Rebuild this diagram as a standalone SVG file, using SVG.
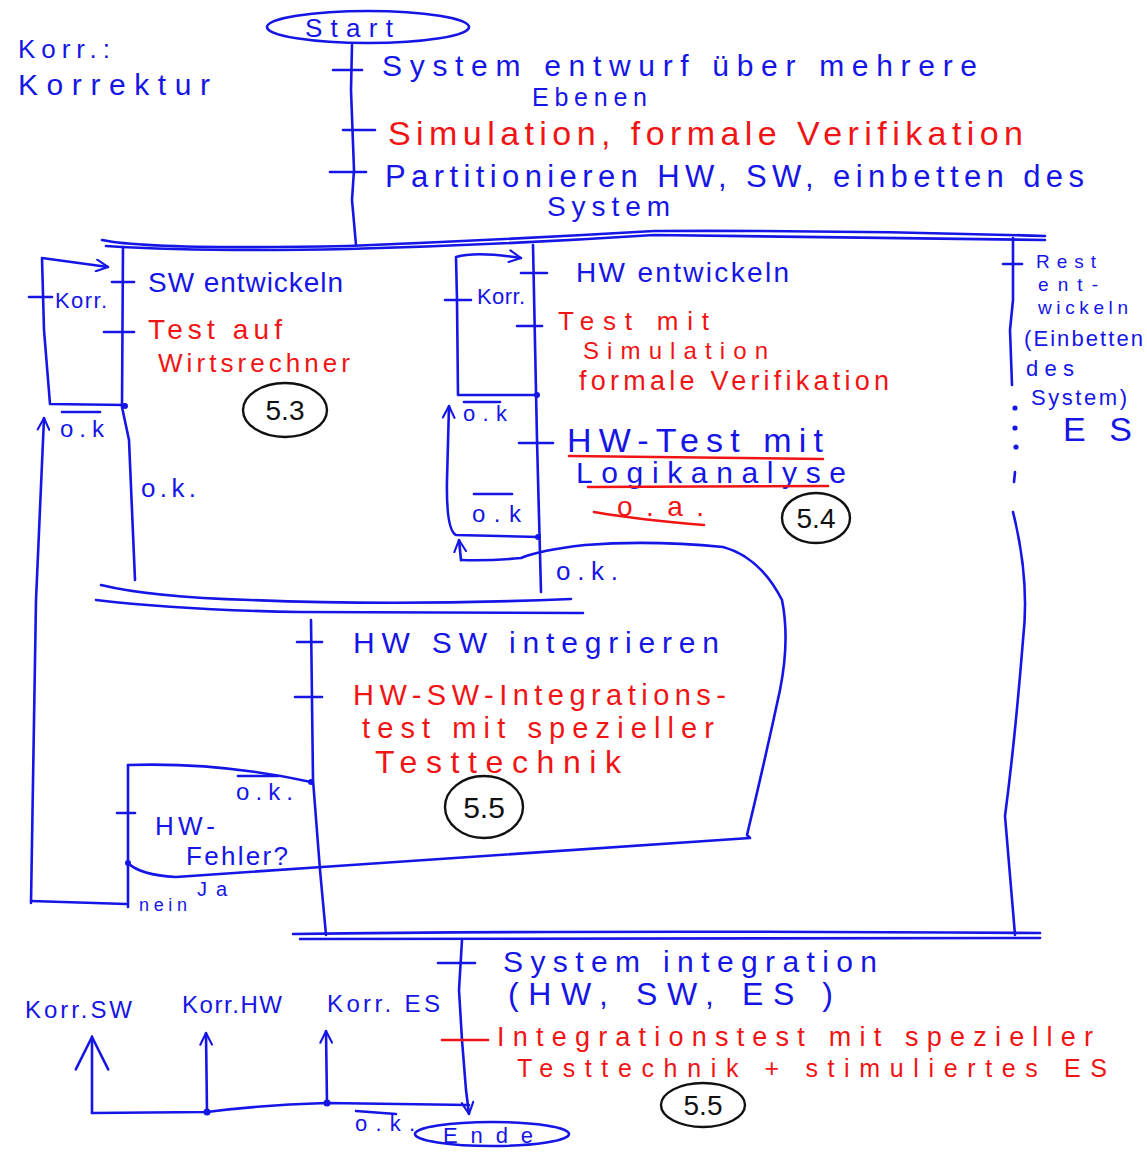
<svg xmlns="http://www.w3.org/2000/svg" width="1147" height="1152" viewBox="0 0 1147 1152">
<defs>
<style>
.b{fill:#1515e6;font-family:"Liberation Sans",Arial,sans-serif;}
.r{fill:#f01414;font-family:"Liberation Sans",Arial,sans-serif;}
.k{fill:#111;font-family:"Liberation Sans",Arial,sans-serif;}
.ln{fill:none;stroke:#1515e6;stroke-width:2.6;stroke-linecap:round;stroke-linejoin:round;}
.rl{fill:none;stroke:#f01414;stroke-width:2.6;stroke-linecap:round;}
.ci{fill:none;stroke:#111;stroke-width:2.4;}
.dot{fill:#1515e6;}
</style>
<marker id="arr" viewBox="0 0 12 12" refX="11" refY="6" markerWidth="14" markerHeight="14" markerUnits="userSpaceOnUse" orient="auto">
<path d="M1,1 L11,6 L1,11" fill="none" stroke="#1515e6" stroke-width="1.8" stroke-linecap="round"/>
</marker>
<marker id="arrW" viewBox="0 0 20 20" refX="19" refY="10" markerWidth="36" markerHeight="36" markerUnits="userSpaceOnUse" orient="auto">
<path d="M1,1 L19,10 L1,19" fill="none" stroke="#1515e6" stroke-width="1.4" stroke-linecap="round"/>
</marker>
</defs>
<rect width="1147" height="1152" fill="#ffffff"/>

<g id="legend">
<text class="b" x="18" y="58" font-size="26" textLength="92" lengthAdjust="spacing">Korr.:</text>
<text class="b" x="18" y="95" font-size="30" textLength="192" lengthAdjust="spacing">Korrektur</text>
</g>

<g id="start">
<ellipse cx="368" cy="27" rx="101" ry="16" fill="none" stroke="#1515e6" stroke-width="2.6"/>
<text class="b" x="305" y="37" font-size="26" textLength="88" lengthAdjust="spacing">Start</text>
</g>

<g id="step-entwurf">
<text class="b" x="382" y="76" font-size="30" textLength="595" lengthAdjust="spacing">System entwurf über mehrere</text>
<text class="b" x="532" y="106" font-size="25" textLength="115" lengthAdjust="spacing">Ebenen</text>
</g>
<g id="step-simulation">
<text class="r" x="388" y="145" font-size="34" textLength="635" lengthAdjust="spacing">Simulation, formale Verifikation</text>
</g>
<g id="step-partition">
<text class="b" x="385" y="187" font-size="31" textLength="699" lengthAdjust="spacing">Partitionieren HW, SW, einbetten des</text>
<text class="b" x="547" y="216" font-size="28" textLength="123" lengthAdjust="spacing">System</text>
</g>

<g id="sw-branch">
<text class="b" x="148" y="292" font-size="28" textLength="195" lengthAdjust="spacing">SW entwickeln</text>
<text class="r" x="148" y="339" font-size="28" textLength="134" lengthAdjust="spacing">Test auf</text>
<text class="r" x="158" y="372" font-size="26" textLength="192" lengthAdjust="spacing">Wirtsrechner</text>
<text class="b" x="55" y="308" font-size="22" textLength="52" lengthAdjust="spacing">Korr.</text>
<text class="b" x="60" y="437" font-size="24" textLength="44" lengthAdjust="spacing">o.k</text>
<line class="ln" x1="62" y1="412" x2="100" y2="412"/>
<text class="b" x="141" y="497" font-size="26" textLength="55" lengthAdjust="spacing">o.k.</text>
<ellipse class="ci" cx="285" cy="410" rx="42" ry="27"/>
<text class="k" x="285" y="420" font-size="28" text-anchor="middle">5.3</text>
</g>

<g id="hw-branch">
<text class="b" x="576" y="282" font-size="28" textLength="213" lengthAdjust="spacing">HW entwickeln</text>
<text class="r" x="558" y="330" font-size="26" textLength="151" lengthAdjust="spacing">Test mit</text>
<text class="r" x="583" y="359" font-size="24" textLength="185" lengthAdjust="spacing">Simulation</text>
<text class="r" x="579" y="390" font-size="27" textLength="310" lengthAdjust="spacing">formale Verifikation</text>
<text class="b" x="477" y="304" font-size="22" textLength="48" lengthAdjust="spacing">Korr.</text>
<text class="b" x="463" y="421" font-size="22" textLength="44" lengthAdjust="spacing">o.k</text>
<line class="ln" x1="464" y1="402" x2="500" y2="402"/>
<text class="b" x="567" y="452" font-size="34" textLength="256" lengthAdjust="spacing">HW-Test mit</text>
<line class="rl" x1="569" y1="456" x2="823" y2="459"/>
<text class="b" x="576" y="483" font-size="30" textLength="270" lengthAdjust="spacing">Logikanalyse</text>
<line class="rl" x1="588" y1="487" x2="828" y2="486"/>
<text class="r" x="617" y="516" font-size="28" textLength="87" lengthAdjust="spacing">o.a.</text>
<path class="rl" d="M594,512 Q640,520 704,525"/>
<text class="b" x="472" y="522" font-size="24" textLength="49" lengthAdjust="spacing">o.k</text>
<line class="ln" x1="474" y1="494" x2="512" y2="494"/>
<text class="b" x="556" y="580" font-size="26" textLength="62" lengthAdjust="spacing">o.k.</text>
<ellipse class="ci" cx="816" cy="518" rx="34" ry="25"/>
<text class="k" x="816" y="528" font-size="28" text-anchor="middle">5.4</text>
</g>

<g id="es-branch">
<text class="b" x="1036" y="268" font-size="19" textLength="60" lengthAdjust="spacing">Rest</text>
<text class="b" x="1038" y="291" font-size="19" textLength="60" lengthAdjust="spacing">ent-</text>
<text class="b" x="1038" y="314" font-size="19" textLength="90" lengthAdjust="spacing">wickeln</text>
<text class="b" x="1024" y="346" font-size="22" textLength="119" lengthAdjust="spacing">(Einbetten</text>
<text class="b" x="1026" y="376" font-size="22" textLength="48" lengthAdjust="spacing">des</text>
<text class="b" x="1031" y="405" font-size="22" textLength="96" lengthAdjust="spacing">System)</text>
<text class="b" x="1063" y="441" font-size="34" textLength="69" lengthAdjust="spacing">ES</text>
</g>

<g id="hwsw-integration">
<text class="b" x="353" y="653" font-size="30" textLength="366" lengthAdjust="spacing">HW SW integrieren</text>
<text class="r" x="353" y="705" font-size="29" textLength="373" lengthAdjust="spacing">HW-SW-Integrations-</text>
<text class="r" x="362" y="738" font-size="29" textLength="352" lengthAdjust="spacing">test mit spezieller</text>
<text class="r" x="375" y="773" font-size="32" textLength="246" lengthAdjust="spacing">Testtechnik</text>
<ellipse class="ci" cx="484" cy="807" rx="39" ry="31"/>
<text class="k" x="484" y="818" font-size="30" text-anchor="middle">5.5</text>
</g>

<g id="hw-fehler">
<text class="b" x="236" y="800" font-size="24" textLength="57" lengthAdjust="spacing">o.k.</text>
<line class="ln" x1="238" y1="776" x2="278" y2="776"/>
<text class="b" x="155" y="835" font-size="26" textLength="60" lengthAdjust="spacing">HW-</text>
<text class="b" x="186" y="865" font-size="26" textLength="102" lengthAdjust="spacing">Fehler?</text>
<text class="b" x="139" y="911" font-size="18" textLength="48" lengthAdjust="spacing">nein</text>
<text class="b" x="197" y="896" font-size="20" textLength="30" lengthAdjust="spacing">Ja</text>
</g>

<g id="system-integration">
<text class="b" x="503" y="972" font-size="30" textLength="374" lengthAdjust="spacing">System integration</text>
<text class="b" x="508" y="1005" font-size="32" textLength="325" lengthAdjust="spacing">(HW, SW, ES )</text>
<text class="r" x="497" y="1046" font-size="27" textLength="596" lengthAdjust="spacing">Integrationstest mit spezieller</text>
<text class="r" x="517" y="1077" font-size="25" textLength="590" lengthAdjust="spacing">Testtechnik + stimuliertes ES</text>
<ellipse class="ci" cx="703" cy="1105" rx="42" ry="22"/>
<text class="k" x="703" y="1115" font-size="28" text-anchor="middle">5.5</text>
</g>

<g id="korrekturen">
<text class="b" x="25" y="1018" font-size="24" textLength="107" lengthAdjust="spacing">Korr.SW</text>
<text class="b" x="182" y="1013" font-size="24" textLength="100" lengthAdjust="spacing">Korr.HW</text>
<text class="b" x="327" y="1012" font-size="24" textLength="113" lengthAdjust="spacing">Korr. ES</text>
<text class="b" x="355" y="1131" font-size="22" textLength="60" lengthAdjust="spacing">o.k.</text>
<line class="ln" x1="356" y1="1111" x2="396" y2="1114"/>
</g>

<g id="ende">
<ellipse cx="492" cy="1134" rx="77" ry="12" fill="none" stroke="#1515e6" stroke-width="2.6"/>
<text class="b" x="443" y="1143" font-size="22" textLength="90" lengthAdjust="spacing">Ende</text>
</g>

<g id="connectors">
<path class="ln" d="M352,45 L351,90 L354,170 L352,200 L356,245"/>
<line class="ln" x1="333" y1="70" x2="362" y2="70"/>
<line class="ln" x1="343" y1="130" x2="375" y2="130"/>
<line class="ln" x1="330" y1="172" x2="366" y2="172"/>
<path class="ln" d="M102,240 Q150,250 348,246 Q500,240 654,231 Q850,230 1045,236"/>
<path class="ln" d="M106,246 Q200,252 348,249 Q500,245 654,235 Q850,238 1045,240"/>

<path class="ln" d="M123,247 L122,407 L129,440 L135,580"/>
<line class="ln" x1="112" y1="282" x2="134" y2="282"/>
<line class="ln" x1="104" y1="332" x2="134" y2="332"/>
<path class="ln" marker-end="url(#arr)" d="M125,405 L50,404 L44,330 L42,258 L108,267"/>
<line class="ln" x1="29" y1="297" x2="52" y2="297"/>
<circle class="dot" cx="125" cy="406" r="3"/>
<path class="ln" marker-end="url(#arr)" d="M31,903 L36,600 L44,418"/>
<path class="ln" d="M31,901 L126,904"/>
<path class="ln" d="M101,585 Q150,597 250,600 Q400,606 571,599"/>
<path class="ln" d="M96,600 Q180,610 300,612 L583,613"/>

<path class="ln" d="M533,245 L537,440 L541,592"/>
<line class="ln" x1="521" y1="273" x2="547" y2="273"/>
<line class="ln" x1="517" y1="326" x2="542" y2="326"/>
<line class="ln" x1="519" y1="443" x2="553" y2="443"/>
<path class="ln" marker-end="url(#arr)" d="M537,395 L458,395 L457,300 L456,257 Q476,251 521,258"/>
<line class="ln" x1="445" y1="300" x2="471" y2="300"/>
<circle class="dot" cx="537" cy="395" r="3"/>
<path class="ln" marker-end="url(#arr)" d="M538,537 L456,535 Q446,530 447,480 L449,406"/>
<circle class="dot" cx="538" cy="537" r="3"/>
<path class="ln" marker-end="url(#arr)" d="M461,560 L459,540"/>
<path class="ln" d="M461,560 Q490,561 521,558 Q540,550 585,545 Q650,540 723,547 Q760,557 782,600 Q790,640 780,690 Q765,760 747,835 L750,838 L322,867 L176,877 Q140,875 128,863"/>

<path class="ln" d="M128,765 Q220,762 311,782"/>
<path class="ln" d="M128,765 L128,907"/>
<line class="ln" x1="117" y1="813" x2="135" y2="813"/>
<circle class="dot" cx="311" cy="782" r="3"/>
<circle class="dot" cx="128" cy="863" r="3"/>

<path class="ln" d="M311,620 L313,780 L320,870 L326,935"/>
<line class="ln" x1="297" y1="642" x2="322" y2="642"/>
<line class="ln" x1="295" y1="697" x2="322" y2="697"/>

<path class="ln" d="M1013,238 L1013,300 L1010,330 L1012,385"/>
<line class="ln" x1="1003" y1="264" x2="1022" y2="264"/>
<circle class="dot" cx="1015" cy="408" r="2.6"/>
<circle class="dot" cx="1015" cy="428" r="2.6"/>
<circle class="dot" cx="1016" cy="447" r="2.6"/>
<path class="ln" d="M1015,472 L1014,482"/>
<path class="ln" d="M1013,512 Q1030,580 1023,640 Q1015,740 1005,816 L1015,935"/>

<path class="ln" d="M293,934 Q600,930 1040,933"/>
<path class="ln" d="M300,939 Q600,937 1040,938"/>

<path class="ln" marker-end="url(#arr)" d="M462,940 L459,990 L462,1040 L466,1090 L469,1114"/>
<line class="ln" x1="438" y1="963" x2="475" y2="963"/>
<line class="rl" x1="442" y1="1040" x2="488" y2="1040"/>
<path class="ln" d="M469,1105 L327,1103 Q260,1105 207,1112 L92,1113"/>
<path class="ln" marker-end="url(#arrW)" d="M92,1113 L92,1037"/>
<path class="ln" marker-end="url(#arr)" d="M207,1112 L206,1033"/>
<path class="ln" marker-end="url(#arr)" d="M327,1103 L326,1031"/>
<circle class="dot" cx="207" cy="1112" r="3.5"/>
<circle class="dot" cx="327" cy="1103" r="3.5"/>
</g>
</svg>
